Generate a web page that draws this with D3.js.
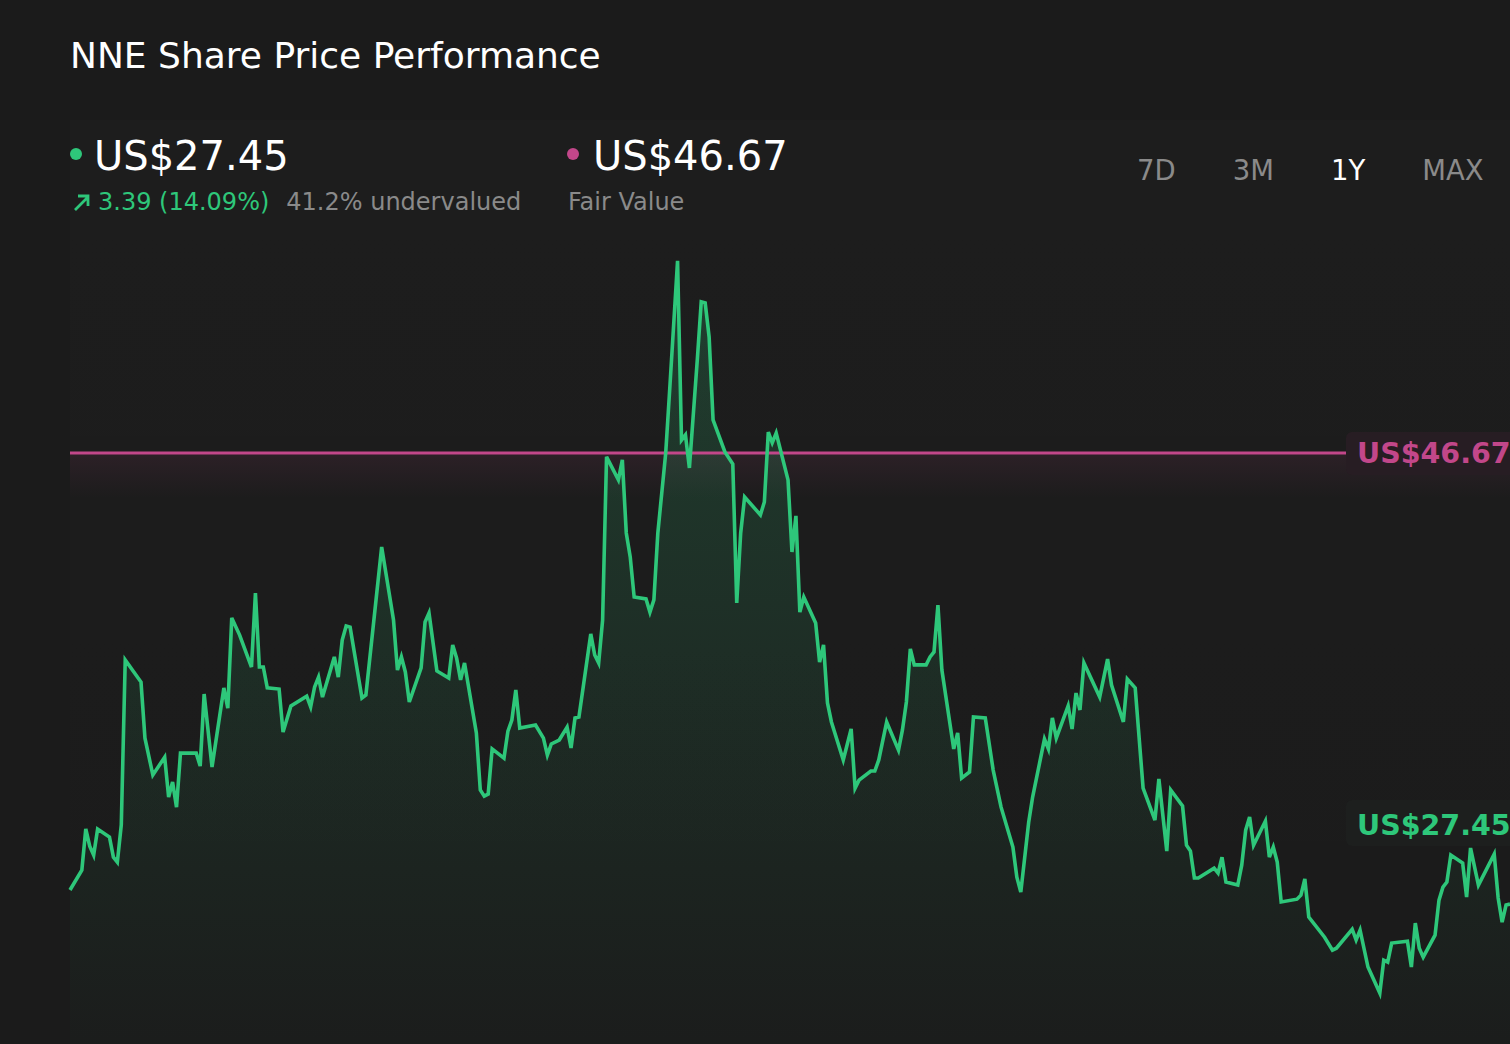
<!DOCTYPE html>
<html>
<head>
<meta charset="utf-8">
<script src="https://cdn.jsdelivr.net/npm/d3@7"></script>
<style>
  body { margin: 0; background: #1b1b1b; }
  svg { display: block; font-family: "DejaVu Sans", sans-serif; }
</style>
</head>
<body>
<div id="chart"></div>
<script>
let width = 1510;
let height = 1044;

// calendar days since start of the 1Y window
let days = [
    0,3,4,5,6,7,10,11,12,13,
    14,18,19,21,24,25,26,27,28,32,
    33,34,36,39,40,41,43,46,47,48,
    49,50,53,54,56,60,61,62,63,64,
    67,68,69,70,71,74,75,79,82,83,
    84,85,86,89,90,91,93,96,97,98,
    99,100,103,104,105,106,107,110,111,112,
    113,114,118,120,121,122,124,126,127,128,
    129,132,133,134,135,136,139,140,141,142,
    143,146,147,148,149,151,152,154,155,156,
    157,159,160,161,162,163,166,168,169,170,
    171,175,176,177,178,179,182,183,184,185,
    186,189,190,191,192,193,196,198,199,200,
    203,204,205,207,210,211,212,213,214,217,
    218,219,220,221,224,225,226,228,229,232,
    234,236,239,240,241,243,244,247,248,249,
    250,253,254,255,256,257,261,263,264,267,
    268,270,272,275,276,278,279,282,283,284,
    285,286,290,291,292,293,296,297,298,299,
    300,303,304,305,306,307,311,312,313,314,
    318,320,321,325,326,327,329,332,333,334,
    335,339,340,341,342,343,346,347,348,349,
    350,353,354,355,357,361,362,363,364,365
];

// closing price, US$
let prices = [
    28.05,28.90,30.65,29.92,29.54,30.65,30.31,29.45,29.24,30.82,
    37.85,36.91,34.52,32.95,33.71,32.01,32.65,31.58,33.88,33.88,
    33.33,36.40,33.29,36.66,35.80,39.64,38.91,37.55,40.70,37.55,
    37.55,36.66,36.61,34.78,35.89,36.31,35.85,36.70,37.12,36.27,
    37.98,37.12,38.70,39.30,39.25,36.23,36.36,42.66,39.55,37.42,
    37.98,37.34,36.06,37.51,39.47,39.85,37.38,37.08,38.49,37.93,
    37.00,37.72,34.74,32.31,32.05,32.14,34.06,33.67,34.82,35.29,
    36.57,34.95,35.08,34.52,33.80,34.27,34.44,34.99,34.10,35.38,
    35.42,38.96,38.06,37.72,39.55,46.50,45.52,46.37,43.26,42.24,
    40.53,40.45,39.89,40.41,43.26,46.67,49.35,54.85,47.22,47.44,
    46.03,50.63,53.11,53.06,51.61,48.08,46.71,46.20,40.28,43.26,
    44.79,44.03,44.58,47.56,47.10,47.52,45.52,42.45,43.99,39.89,
    40.53,39.43,37.76,38.49,36.02,35.21,33.59,34.91,32.39,32.73,
    33.12,33.12,33.59,35.21,34.01,34.87,36.06,38.32,37.64,37.64,
    37.98,38.19,40.19,37.42,34.06,34.74,32.82,33.08,35.42,35.38,
    33.16,31.58,29.88,28.60,27.96,30.94,32.01,34.48,34.06,35.38,
    34.52,35.89,34.91,36.44,35.72,37.72,36.27,37.89,36.78,35.21,
    37.04,36.66,32.39,31.03,32.78,29.71,32.31,31.63,29.96,29.71,
    28.56,28.56,28.98,28.77,29.45,28.39,28.26,29.11,30.60,31.16,
    29.96,30.99,29.45,29.88,29.24,27.54,27.66,27.83,28.52,26.90,
    26.04,25.49,25.57,26.38,25.92,26.34,24.77,23.66,25.06,24.98,
    25.79,25.87,24.77,26.64,25.57,25.19,26.13,27.62,28.17,28.39,
    29.54,29.20,27.75,29.84,28.26,29.58,27.71,26.68,27.41,27.45
];

let lastPrice = 27.45;
let fairValue = 46.67;
let change = 3.39;
let changePct = 14.09;
let undervaluedPct = 41.2;
let periods = ["7D", "3M", "1Y", "MAX"];
let activePeriod = "1Y";

let green = "#2ec77a";
let pink = "#c2478a";
let grey = "#8a8a8a";

function priceChart() {
    let dataset = days.map((d, i) => ({ day: d, price: prices[i] }));

    let xScale = d3.scaleLinear()
        .domain([0, 365])
        .range([70, width]);

    let yScale = d3.scaleLinear()
        .domain([20, 60])
        .range([1079, 140]);

    let svg = d3.select("#chart")
        .append("svg")
        .attr("width", width)
        .attr("height", height);

    let defs = svg.append("defs");

    let areaGrad = defs.append("linearGradient")
        .attr("id", "areaGrad")
        .attr("gradientUnits", "userSpaceOnUse")
        .attr("x1", 0).attr("x2", 0)
        .attr("y1", yScale(d3.max(prices))).attr("y2", height);
    areaGrad.append("stop").attr("offset", 0).attr("stop-color", green).attr("stop-opacity", 0.2);
    areaGrad.append("stop").attr("offset", 1).attr("stop-color", green).attr("stop-opacity", 0.01);

    let fvGrad = defs.append("linearGradient")
        .attr("id", "fvGrad")
        .attr("x1", 0).attr("x2", 0)
        .attr("y1", 0).attr("y2", 1);
    fvGrad.append("stop").attr("offset", 0).attr("stop-color", pink).attr("stop-opacity", 0.1);
    fvGrad.append("stop").attr("offset", 1).attr("stop-color", pink).attr("stop-opacity", 0);

    let panelGrad = defs.append("linearGradient")
        .attr("id", "panelGrad")
        .attr("x1", 0).attr("x2", 0)
        .attr("y1", 0).attr("y2", 1);
    panelGrad.append("stop").attr("offset", 0).attr("stop-color", "#ffffff").attr("stop-opacity", 0.01);
    panelGrad.append("stop").attr("offset", 1).attr("stop-color", "#ffffff").attr("stop-opacity", 0.0);

    // faint panel behind the plot
    svg.append("rect")
        .attr("x", xScale(0))
        .attr("y", 120)
        .attr("width", width - xScale(0))
        .attr("height", height - 120)
        .attr("fill", "url(#panelGrad)");

    // header
    svg.append("text")
        .attr("x", 70).attr("y", 68)
        .attr("fill", "#ffffff")
        .attr("font-size", 36)
        .text("NNE Share Price Performance");

    svg.append("circle").attr("cx", 76).attr("cy", 154).attr("r", 6).attr("fill", green);
    svg.append("text")
        .attr("x", 94).attr("y", 170)
        .attr("fill", "#ffffff")
        .attr("font-size", 40)
        .text("US$" + lastPrice.toFixed(2));

    svg.append("path")
        .attr("d", "M75,210 L88,197 M78,196 L88,196 L88,206")
        .attr("fill", "none")
        .attr("stroke", green)
        .attr("stroke-width", 2.8);
    let sub = svg.append("text")
        .attr("x", 98).attr("y", 210)
        .attr("font-size", 24);
    sub.append("tspan")
        .attr("fill", green)
        .text(change.toFixed(2) + " (" + changePct.toFixed(2) + "%)");
    sub.append("tspan")
        .attr("fill", grey)
        .attr("dx", 17)
        .text(undervaluedPct.toFixed(1) + "% undervalued");

    svg.append("circle").attr("cx", 573).attr("cy", 154).attr("r", 6).attr("fill", pink);
    svg.append("text")
        .attr("x", 593).attr("y", 170)
        .attr("fill", "#ffffff")
        .attr("font-size", 40)
        .text("US$" + fairValue.toFixed(2));
    svg.append("text")
        .attr("x", 568).attr("y", 210)
        .attr("fill", grey)
        .attr("font-size", 24)
        .text("Fair Value");

    // period buttons
    let px = 1137;
    periods.forEach(p => {
        let t = svg.append("text")
            .attr("x", px).attr("y", 180)
            .attr("font-size", 27.5)
            .attr("fill", p === activePeriod ? "#ffffff" : grey)
            .text(p);
        px += t.node().getComputedTextLength() + 57;
    });

    // fair value tint under its line
    svg.append("rect")
        .attr("x", xScale(0))
        .attr("y", yScale(fairValue))
        .attr("width", width - xScale(0))
        .attr("height", 45)
        .attr("fill", "url(#fvGrad)");

    let area = d3.area()
        .x(d => xScale(d.day))
        .y0(height)
        .y1(d => yScale(d.price));

    let line = d3.line()
        .x(d => xScale(d.day))
        .y(d => yScale(d.price));

    svg.append("path")
        .datum(dataset)
        .attr("fill", "url(#areaGrad)")
        .attr("d", area);

    // fair value line
    svg.append("line")
        .attr("x1", xScale(0))
        .attr("x2", 1346)
        .attr("y1", yScale(fairValue))
        .attr("y2", yScale(fairValue))
        .attr("stroke", pink)
        .attr("stroke-width", 3);

    svg.append("path")
        .datum(dataset)
        .attr("fill", "none")
        .attr("stroke", green)
        .attr("stroke-width", 3.6)
        .attr("stroke-linejoin", "miter")
        .attr("d", line);

    // fair value label
    svg.append("rect")
        .attr("x", 1346)
        .attr("y", yScale(fairValue) - 21)
        .attr("width", 180)
        .attr("height", 43)
        .attr("rx", 6)
        .attr("fill", "#271d23");
    svg.append("text")
        .attr("x", 1357)
        .attr("y", yScale(fairValue) + 10)
        .attr("fill", pink)
        .attr("font-size", 28.5)
        .attr("font-weight", "bold")
        .text("US$" + fairValue.toFixed(2));

    // current price label
    let ly = yScale(lastPrice) - 70;
    svg.append("rect")
        .attr("x", 1346)
        .attr("y", ly - 34)
        .attr("width", 180)
        .attr("height", 46)
        .attr("rx", 6)
        .attr("fill", "#1d1f1e");
    svg.append("text")
        .attr("x", 1357)
        .attr("y", ly + 1)
        .attr("fill", green)
        .attr("font-size", 28.5)
        .attr("font-weight", "bold")
        .text("US$" + lastPrice.toFixed(2));
}

priceChart();
</script>
</body>
</html>
